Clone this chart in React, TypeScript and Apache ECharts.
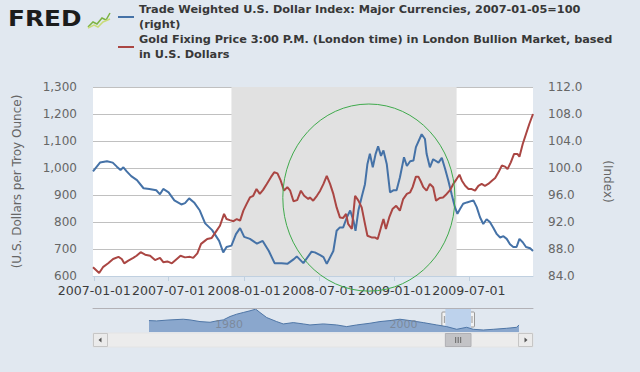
import { useEffect, useRef } from 'react';
import * as echarts from 'echarts';

// ---------- data ----------
const dollarName = 'Trade Weighted U.S. Dollar Index: Major Currencies, 2007-01-05=100 (right)';
const goldName = 'Gold Fixing Price 3:00 P.M. (London time) in London Bullion Market, based in U.S. Dollars';
const legendLines: Record<string, string[]> = {
  [dollarName]: ['Trade Weighted U.S. Dollar Index: Major Currencies, 2007-01-05=100', '(right)'],
  [goldName]: ['Gold Fixing Price 3:00 P.M. (London time) in London Bullion Market, based', 'in U.S. Dollars'],
};

const dollarDates = ['2006-12-29','2007-01-15','2007-02-01','2007-02-15','2007-02-25','2007-03-06','2007-03-13','2007-03-21','2007-04-01','2007-04-15','2007-05-01','2007-05-15','2007-06-01','2007-06-10','2007-06-18','2007-07-01','2007-07-15','2007-08-01','2007-08-10','2007-08-20','2007-09-01','2007-09-15','2007-09-28','2007-10-15','2007-11-01','2007-11-11','2007-11-19','2007-12-01','2007-12-12','2007-12-22','2008-01-01','2008-01-15','2008-02-01','2008-02-15','2008-03-01','2008-03-15','2008-04-01','2008-04-15','2008-05-01','2008-05-08','2008-05-24','2008-06-13','2008-06-21','2008-07-04','2008-07-12','2008-07-20','2008-08-05','2008-08-13','2008-08-21','2008-08-29','2008-09-07','2008-09-15','2008-09-23','2008-09-28','2008-10-05','2008-10-13','2008-10-21','2008-10-27','2008-11-02','2008-11-09','2008-11-16','2008-11-22','2008-11-29','2008-12-05','2008-12-13','2008-12-21','2008-12-29','2009-01-06','2009-01-14','2009-01-24','2009-01-31','2009-02-08','2009-02-16','2009-02-22','2009-03-08','2009-03-16','2009-03-20','2009-03-28','2009-04-05','2009-04-18','2009-04-26','2009-05-04','2009-05-12','2009-05-20','2009-05-28','2009-06-03','2009-06-09','2009-06-17','2009-06-26','2009-07-12','2009-07-20','2009-07-28','2009-08-05','2009-08-13','2009-08-21','2009-08-29','2009-09-07','2009-09-15','2009-09-23','2009-10-01','2009-10-09','2009-10-17','2009-10-25','2009-11-01','2009-11-09','2009-11-17','2009-11-27','2009-12-04'];
const dollarValues = [99.5,100.8,101.0,100.8,100.2,99.7,100.1,99.5,98.8,98.2,97.0,96.9,96.7,96.1,96.9,96.4,95.2,94.6,94.8,95.5,94.9,93.7,91.8,90.8,89.2,87.5,88.3,88.5,90.2,91.1,89.8,89.5,88.8,89.2,87.7,85.9,85.9,85.8,86.5,86.9,85.9,87.6,87.5,87.1,86.8,85.8,87.7,90.7,91.2,91.2,92.7,93.7,92.2,90.7,93.7,95.7,97.6,100.6,102.1,100.1,102.1,103.2,101.8,102.6,100.6,96.4,96.7,96.7,98.6,101.6,100.3,101.0,101.1,103.1,105.0,104.3,102.1,100.1,101.3,100.8,101.5,99.9,98.1,96.1,94.2,93.2,93.9,94.7,94.9,95.2,94.2,92.7,91.7,92.4,92.0,91.2,90.2,89.7,89.9,89.5,88.7,88.3,88.3,89.5,89.0,88.3,88.1,87.7];

const goldDates = ['2006-12-29','2007-01-13','2007-01-23','2007-02-04','2007-02-16','2007-03-01','2007-03-09','2007-03-15','2007-03-25','2007-04-06','2007-04-14','2007-04-24','2007-05-05','2007-05-17','2007-05-29','2007-06-10','2007-06-18','2007-06-28','2007-07-09','2007-07-21','2007-07-30','2007-08-10','2007-08-22','2007-08-30','2007-09-09','2007-09-18','2007-09-28','2007-10-03','2007-10-14','2007-10-26','2007-11-03','2007-11-13','2007-11-19','2007-11-27','2007-12-06','2007-12-14','2007-12-22','2007-12-30','2008-01-07','2008-01-15','2008-01-23','2008-01-31','2008-02-08','2008-02-16','2008-02-25','2008-03-06','2008-03-14','2008-03-22','2008-03-30','2008-04-07','2008-04-15','2008-04-22','2008-04-30','2008-05-09','2008-05-18','2008-05-26','2008-06-05','2008-06-09','2008-06-17','2008-06-26','2008-07-04','2008-07-12','2008-07-20','2008-07-28','2008-08-05','2008-08-13','2008-08-21','2008-08-29','2008-09-05','2008-09-10','2008-09-19','2008-09-27','2008-10-05','2008-10-13','2008-10-21','2008-10-27','2008-11-06','2008-11-14','2008-11-21','2008-11-29','2008-12-05','2008-12-11','2008-12-19','2008-12-27','2009-01-05','2009-01-14','2009-01-22','2009-01-31','2009-02-08','2009-02-14','2009-02-22','2009-02-28','2009-03-06','2009-03-12','2009-03-20','2009-03-28','2009-04-05','2009-04-12','2009-04-21','2009-04-29','2009-05-08','2009-05-16','2009-05-24','2009-06-01','2009-06-08','2009-06-14','2009-06-22','2009-06-30','2009-07-08','2009-07-16','2009-07-24','2009-08-01','2009-08-09','2009-08-17','2009-08-26','2009-09-03','2009-09-11','2009-09-19','2009-09-27','2009-10-03','2009-10-11','2009-10-19','2009-10-27','2009-11-01','2009-11-09','2009-11-17','2009-11-25','2009-12-04'];
const goldValues = [632,611,634,647,663,671,663,647,657,667,675,688,679,675,659,667,651,654,647,663,675,669,671,667,684,719,731,737,741,768,786,830,811,807,803,811,805,842,867,891,897,922,904,919,941,966,984,980,953,916,929,916,877,881,916,897,885,891,879,897,916,941,971,941,904,854,817,815,830,793,774,897,879,854,793,749,743,743,737,780,811,774,817,848,860,842,885,904,910,929,968,968,950,929,916,941,929,879,889,891,904,918,941,959,975,953,934,922,922,916,934,941,934,941,953,963,984,1009,1005,996,1021,1052,1052,1042,1089,1126,1163,1200];

const xRange = ['2006-12-29', '2009-12-04'];
const xTickLabels = ['2007-01-01', '2007-07-01', '2008-01-01', '2008-07-01', '2009-01-01', '2009-07-01'];
const recession = ['2007-12-01', '2009-06-01'];

// navigator (full history of the dollar index)
const navYears = [1973.0,1973.88,1975.41,1976.93,1977.70,1978.85,1980.00,1980.76,1981.52,1982.29,1983.06,1983.81,1984.58,1985.24,1985.73,1986.50,1987.64,1988.40,1989.55,1990.70,1991.46,1992.99,1994.53,1995.67,1996.82,1998.34,1999.49,2000.64,2001.78,2002.93,2004.46,2006.00,2007.14,2008.29,2009.43,2010.19,2011.34,2012.48,2014.02,2015.17,2015.43];
const navValues = [127.1,125.8,129.9,132.7,129.9,123.0,120.2,125.8,129.9,143.8,153.5,160.4,167.4,174.3,160.4,139.6,123.0,113.3,118.8,113.3,109.1,113.3,109.1,102.2,109.1,116.1,123.0,127.1,132.7,127.1,118.8,109.1,102.2,91.1,99.4,91.1,88.3,91.1,95.3,99.4,109.1];
const navLabelYears = [1980, 2000];
const navSelection = [2006.99, 2009.93];

// annotation ellipse bounds (data coordinates)
const circleFrom = '2008-04-04';
const circleTo = '2009-05-28';
const circleTop = 1237;
const circleBottom = 544;

// ---------- helpers ----------
function ts(s: string): number {
  const [y, m, d] = s.split('-').map(Number);
  return new Date(y, m - 1, d).getTime();
}
const xTickValues = xTickLabels.map(ts);
const FONT = 'DejaVu Sans';

export default function App() {
  const ref = useRef<HTMLDivElement>(null);

  useEffect(() => {
    const el = ref.current;
    if (!el) return;
    const chart = echarts.init(el, undefined, { renderer: 'svg' });

    const legendCommon = {
      orient: 'vertical',
      left: 118,
      padding: 0,
      itemWidth: 16,
      itemHeight: 2,
      icon: 'rect',
      selectedMode: false,
      formatter: (n: string) => (legendLines[n] || [n]).join('\n'),
      textStyle: {
        fontFamily: FONT,
        fontSize: 11.3,
        fontWeight: 'bold',
        color: '#383838',
        lineHeight: 15,
        padding: [15, 0, 0, 0],
      },
    };

    const option: any = {
      animation: false,
      backgroundColor: '#e1e8f0',
      textStyle: { fontFamily: FONT },
      legend: [
        { ...legendCommon, data: [dollarName], top: -5.5 },
        { ...legendCommon, data: [goldName], top: 24.5 },
      ],
      grid: [
        { left: 93, top: 87, width: 440, height: 189, show: true, backgroundColor: '#ffffff', borderWidth: 0 },
        { left: 93, top: 308, width: 440, height: 24, show: false },
      ],
      xAxis: [
        {
          type: 'value',
          gridIndex: 0,
          min: ts(xRange[0]),
          max: ts(xRange[1]),
          axisLine: { show: true, lineStyle: { color: '#c0d0e0' } },
          axisTick: { show: true, customValues: xTickValues, length: 5, lineStyle: { color: '#c0d0e0' } },
          axisLabel: {
            customValues: xTickValues,
            formatter: (v: number) => {
              const i = xTickValues.indexOf(v);
              return i >= 0 ? xTickLabels[i] : '';
            },
            showMinLabel: true,
            showMaxLabel: true,
            hideOverlap: false,
            fontSize: 12.6,
            color: '#3c3c3c',
            margin: 8,
          },
          splitLine: { show: false },
        },
        {
          type: 'value',
          gridIndex: 1,
          min: 1966.58,
          max: 2017.04,
          position: 'top',
          z: 10,
          axisLine: { show: true, lineStyle: { color: '#b2b1b6' } },
          axisTick: { show: false },
          axisLabel: {
            inside: true,
            customValues: navLabelYears,
            formatter: (v: number) => String(v),
            showMinLabel: true,
            showMaxLabel: true,
            hideOverlap: false,
            align: 'left',
            padding: [0, 0, 0, 5],
            fontSize: 11,
            color: 'rgba(120,128,140,0.75)',
            margin: 11,
          },
          splitLine: { show: false },
        },
      ],
      yAxis: [
        {
          type: 'value',
          gridIndex: 0,
          position: 'left',
          min: 600,
          max: 1300,
          interval: 100,
          name: '(U.S. Dollars per Troy Ounce)',
          nameLocation: 'middle',
          nameRotate: 90,
          nameGap: 70,
          nameTextStyle: { fontSize: 12, color: '#666666' },
          axisLine: { show: false },
          axisTick: { show: false },
          axisLabel: {
            formatter: (v: number) => v.toLocaleString('en-US'),
            fontSize: 12,
            color: '#666666',
            margin: 16,
          },
          splitLine: { show: true, lineStyle: { color: '#c0c0c0', width: 1 } },
        },
        {
          type: 'value',
          gridIndex: 0,
          position: 'right',
          min: 84,
          max: 112,
          interval: 4,
          name: '(Index)',
          nameLocation: 'middle',
          nameRotate: -90,
          nameGap: 69,
          nameTextStyle: { fontSize: 12, color: '#666666' },
          axisLine: { show: false },
          axisTick: { show: false },
          axisLabel: {
            formatter: (v: number) => v.toFixed(1),
            fontSize: 12,
            color: '#666666',
            margin: 15,
          },
          splitLine: { show: false },
        },
        { type: 'value', gridIndex: 1, min: 80, max: 179, show: false },
      ],
      series: [
        {
          name: 'recession',
          type: 'line',
          xAxisIndex: 0,
          yAxisIndex: 0,
          data: [],
          z: 1,
          silent: true,
          markArea: {
            silent: true,
            itemStyle: { color: '#e1e1e1' },
            data: [[{ xAxis: ts(recession[0]) }, { xAxis: ts(recession[1]) }]],
          },
        },
        {
          name: dollarName,
          type: 'line',
          xAxisIndex: 0,
          yAxisIndex: 1,
          z: 3,
          showSymbol: false,
          color: '#4572A7',
          lineStyle: { color: '#4572A7', width: 2 },
          itemStyle: { color: '#4572A7' },
          data: dollarDates.map((d, i) => [ts(d), dollarValues[i]]),
        },
        {
          name: goldName,
          type: 'line',
          xAxisIndex: 0,
          yAxisIndex: 0,
          z: 3,
          showSymbol: false,
          color: '#AA4643',
          lineStyle: { color: '#AA4643', width: 2 },
          itemStyle: { color: '#AA4643' },
          data: goldDates.map((d, i) => [ts(d), goldValues[i]]),
        },
        {
          name: 'navSelection',
          type: 'line',
          xAxisIndex: 1,
          yAxisIndex: 2,
          data: [],
          z: 1,
          silent: true,
          markArea: {
            silent: true,
            itemStyle: { color: '#bdd2ec' },
            data: [[{ xAxis: navSelection[0] }, { xAxis: navSelection[1] }]],
          },
        },
        {
          name: 'navigator',
          type: 'line',
          xAxisIndex: 1,
          yAxisIndex: 2,
          z: 2,
          silent: true,
          showSymbol: false,
          lineStyle: { color: '#4f76a6', width: 1 },
          areaStyle: { color: '#8aa7cd', opacity: 1 },
          data: navYears.map((y, i) => [y, navValues[i]]),
        },
      ],
    };

    chart.setOption(option);

    // decorations positioned from the axes
    const p1 = chart.convertToPixel({ xAxisIndex: 0, yAxisIndex: 0 } as any, [ts(circleFrom), circleTop]) as number[];
    const p2 = chart.convertToPixel({ xAxisIndex: 0, yAxisIndex: 0 } as any, [ts(circleTo), circleBottom]) as number[];
    const cx = (p1[0] + p2[0]) / 2;
    const cy = (p1[1] + p2[1]) / 2;
    const rx = Math.abs(p2[0] - p1[0]) / 2;
    const ry = Math.abs(p2[1] - p1[1]) / 2;

    const s0 = chart.convertToPixel({ xAxisIndex: 1 } as any, navSelection[0]) as number;
    const s1 = chart.convertToPixel({ xAxisIndex: 1 } as any, navSelection[1]) as number;

    const navL = 93;
    const navR = 533;
    const sbY = 333;
    const sbH = 14;

    const handle = (e: number) => ({
      type: 'group',
      z: 60,
      children: [
        { type: 'rect', shape: { x: e - 3.5, y: 312, width: 7, height: 15, r: 1 }, style: { fill: '#f2f2f2', stroke: '#9a9a9a', lineWidth: 1 } },
        { type: 'line', shape: { x1: e - 1, y1: 316, x2: e - 1, y2: 323 }, style: { stroke: '#9a9a9a', lineWidth: 1 } },
        { type: 'line', shape: { x1: e + 1, y1: 316, x2: e + 1, y2: 323 }, style: { stroke: '#9a9a9a', lineWidth: 1 } },
      ],
    });

    const thumbMid = (s0 + s1) / 2;

    chart.setOption({
      graphic: [
        // FRED logo
        {
          type: 'text',
          x: 8,
          y: 8,
          scaleX: 1.18,
          z: 50,
          style: { text: 'FRED', font: 'bold 21px "DejaVu Sans"', fill: '#1c1c1c', align: 'left', verticalAlign: 'top' },
        },
        {
          type: 'polyline',
          z: 50,
          shape: { points: [[88, 27], [93, 22], [97, 24], [102, 18], [106, 20], [110, 13]] },
          style: { stroke: '#7cb342', lineWidth: 1.5, fill: 'none' },
        },
        {
          type: 'polyline',
          z: 50,
          shape: { points: [[88, 28], [94, 25], [98, 27], [103, 22], [110, 19]] },
          style: { stroke: '#c9dc7a', lineWidth: 1.5, fill: 'none' },
        },
        // annotation ellipse
        {
          type: 'ellipse',
          z: 40,
          silent: true,
          shape: { cx, cy, rx, ry },
          style: { fill: 'none', stroke: '#3faa4c', lineWidth: 1 },
        },
        // scrollbar
        { type: 'rect', z: 50, shape: { x: navL, y: sbY, width: navR - navL, height: sbH }, style: { fill: '#ececec', stroke: '#e4e4e4' } },
        { type: 'rect', z: 51, shape: { x: navL + 0.5, y: sbY + 0.5, width: 14, height: sbH - 1 }, style: { fill: '#ebebeb', stroke: '#c6c6c6' } },
        { type: 'rect', z: 51, shape: { x: navR - 14.5, y: sbY + 0.5, width: 14, height: sbH - 1 }, style: { fill: '#ebebeb', stroke: '#c6c6c6' } },
        { type: 'polygon', z: 52, shape: { points: [[navL + 5.5, sbY + 7], [navL + 8.5, sbY + 4.5], [navL + 8.5, sbY + 9.5]] }, style: { fill: '#555555' } },
        { type: 'polygon', z: 52, shape: { points: [[navR - 5.5, sbY + 7], [navR - 8.5, sbY + 4.5], [navR - 8.5, sbY + 9.5]] }, style: { fill: '#555555' } },
        { type: 'rect', z: 51, shape: { x: s0, y: sbY + 0.5, width: s1 - s0, height: sbH - 1 }, style: { fill: '#c3c3c6', stroke: '#b0b0b4' } },
        { type: 'line', z: 52, shape: { x1: thumbMid - 2.5, y1: sbY + 4, x2: thumbMid - 2.5, y2: sbY + 10 }, style: { stroke: '#666666', lineWidth: 1 } },
        { type: 'line', z: 52, shape: { x1: thumbMid, y1: sbY + 4, x2: thumbMid, y2: sbY + 10 }, style: { stroke: '#666666', lineWidth: 1 } },
        { type: 'line', z: 52, shape: { x1: thumbMid + 2.5, y1: sbY + 4, x2: thumbMid + 2.5, y2: sbY + 10 }, style: { stroke: '#666666', lineWidth: 1 } },
        handle(s0),
        handle(s1),
      ],
    });

    return () => {
      chart.dispose();
    };
  }, []);

  return <div ref={ref} style={{ position: 'fixed', left: 0, top: 0, width: 640, height: 372 }} />;
}
